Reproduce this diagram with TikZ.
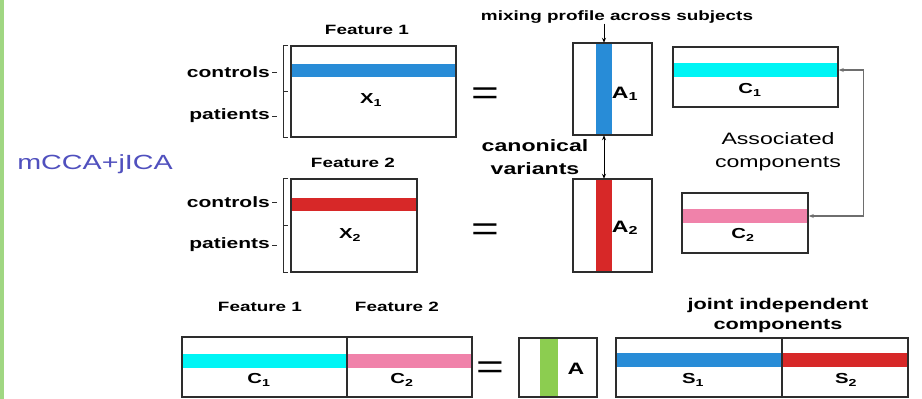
\documentclass[tikz,border=0pt]{standalone}
\usepackage{fontspec}
\setmainfont[FakeStretch=1.4]{Liberation Sans}
\usetikzlibrary{arrows.meta}
\definecolor{blueband}{RGB}{40,140,215}
\definecolor{redband}{RGB}{215,40,40}
\definecolor{cyanband}{RGB}{0,245,245}
\definecolor{pinkband}{RGB}{240,130,170}
\definecolor{greenband}{RGB}{140,205,80}
\definecolor{edgec}{RGB}{45,45,45}
\definecolor{leftgreen}{RGB}{160,215,130}
\definecolor{mccac}{RGB}{80,80,190}
\definecolor{connc}{RGB}{110,110,110}
\tikzset{
  box/.style={draw=edgec, line width=1.6pt, inner sep=0pt},
  band/.style={inner sep=0pt, draw=none},
  feat/.style={inner sep=0pt, font=\bfseries\fontsize{13.5}{16}\selectfont},
  side/.style={inner sep=0pt, anchor=east, font=\bfseries\fontsize{15}{18}\selectfont},
  mlbl/.style={inner sep=0pt, font=\bfseries\fontsize{14.5}{16}\selectfont},
  albl/.style={inner sep=0pt, font=\bfseries\fontsize{16.5}{18}\selectfont},
  eqs/.style={inner sep=0pt, font=\fontsize{34}{36}\selectfont},
  twoline/.style={inner sep=0pt, align=center},
  brk/.style={draw=edgec, line width=0.9pt},
  tip/.style={-{Stealth[length=5pt,width=4pt]}, line width=0.9pt, draw=black},
  conn/.style={{Stealth[length=5pt,width=4pt]}-{Stealth[length=5pt,width=4pt]}, line width=1.3pt, draw=connc},
}
\begin{document}
\begin{tikzpicture}[x=1pt,y=-1pt]
\useasboundingbox (0,0) rectangle (922,399);
\fill[white] (0,0) rectangle (922,399);
\fill[leftgreen] (0,0) rectangle (4,399);

% ---- top row ----
\node[feat] (f1) at (367,30) {Feature 1};
\node[band, fill=blueband, minimum width=165, minimum height=13] (X1b) at (373.5,70.5) {};
\node[box, minimum width=165, minimum height=91] (X1) at (373.5,91.5) {};
\node[mlbl] (X1l) at (371,100) {X\textsubscript{1}};
\node[side] (ctl1) at (270,72) {controls};
\node[side] (pat1) at (270,116) {patients};
\draw[brk] (ctl1.east) ++(2,0) -- ++(5,0);
\draw[brk] (pat1.east) ++(2,0) -- ++(5,0);
\draw[brk] ([xshift=-2pt]X1.north west) -- ([xshift=-7pt]X1.north west) -- ([xshift=-7pt]X1.south west) -- ([xshift=-2pt]X1.south west);
\draw[brk] ([xshift=-7pt]X1.west) -- ([xshift=-2pt]X1.west);

\node[eqs] (eq1) at (485,96) {=};

\node[feat] (mix) at (617,17) {mixing profile across subjects};
\node[band, fill=blueband, minimum width=16, minimum height=92] (A1c) at (604,89) {};
\node[box, minimum width=79, minimum height=92] (A1) at (612.5,89) {};
\node[albl] (A1l) at (625,94) {A\textsubscript{1}};
\draw[tip] (mix.south -| A1c.north) -- (A1c.north);

\node[band, fill=cyanband, minimum width=165, minimum height=14] (C1b) at (755.5,70) {};
\node[box, minimum width=165, minimum height=60] (C1) at (755.5,77) {};
\node[mlbl] (C1l) at (750,90) {C\textsubscript{1}};

\node[twoline, font=\bfseries\fontsize{16.5}{23}\selectfont] (canon) at (535,157) {canonical\\variants};
\node[twoline, font=\fontsize{16.5}{23}\selectfont] (assoc) at (778,152) {Associated\\components};

\node[inner sep=0pt, text=mccac, font=\fontsize{20.5}{24}\selectfont] (mcca) at (95,164) {mCCA+jICA};

% ---- second row ----
\node[feat] (f2) at (353,163) {Feature 2};
\node[band, fill=redband, minimum width=126, minimum height=13] (X2b) at (354,204.5) {};
\node[box, minimum width=126, minimum height=93] (X2) at (354,225.5) {};
\node[mlbl] (X2l) at (350,235) {X\textsubscript{2}};
\node[side] (ctl2) at (270,202) {controls};
\node[side] (pat2) at (270,245) {patients};
\draw[brk] (ctl2.east) ++(2,0) -- ++(5,0);
\draw[brk] (pat2.east) ++(2,0) -- ++(5,0);
\draw[brk] ([xshift=-2pt]X2.north west) -- ([xshift=-7pt]X2.north west) -- ([xshift=-7pt]X2.south west) -- ([xshift=-2pt]X2.south west);
\draw[brk] ([xshift=-7pt]X2.west) -- ([xshift=-2pt]X2.west);

\node[eqs] (eq2) at (485,232) {=};

\node[band, fill=redband, minimum width=16, minimum height=93] (A2c) at (604,225.5) {};
\node[box, minimum width=79, minimum height=93] (A2) at (612.5,225.5) {};
\node[albl] (A2l) at (625,228) {A\textsubscript{2}};
\draw[tip, {Stealth[length=5pt,width=4pt]}-{Stealth[length=5pt,width=4pt]}] (A1c.south) -- (A2c.north);

\node[band, fill=pinkband, minimum width=126, minimum height=14] (C2b) at (745,216) {};
\node[box, minimum width=126, minimum height=60] (C2) at (745,223) {};
\node[mlbl] (C2l) at (743,235) {C\textsubscript{2}};

\draw[conn] ([yshift=7pt]C2.east) -- ++(55,0) |- ([yshift=7pt]C1.east);

% ---- bottom row ----
\node[feat] (bf1) at (260,307) {Feature 1};
\node[feat] (bf2) at (397,307) {Feature 2};
\node[band, fill=cyanband, minimum width=165, minimum height=14] (CCab) at (264.5,361) {};
\node[band, fill=pinkband, minimum width=125, minimum height=14] (CCbb) at (409.5,361) {};
\node[box, minimum width=165, minimum height=60] (CCa) at (264.5,367) {};
\node[box, minimum width=125, minimum height=60] (CCb) at (409.5,367) {};
\node[mlbl] (CCal) at (259,380) {C\textsubscript{1}};
\node[mlbl] (CCbl) at (402,380) {C\textsubscript{2}};

\node[eqs] (eq3) at (490,370) {=};

\node[band, fill=greenband, minimum width=18, minimum height=59] (Ac) at (549,367.5) {};
\node[box, minimum width=78, minimum height=59] (A) at (558,367.5) {};
\node[albl] (Al) at (576,369) {A};

\node[twoline, font=\bfseries\fontsize{15.5}{20}\selectfont] (joint) at (778,315) {joint independent\\components};
\node[band, fill=blueband, minimum width=166, minimum height=14] (Sab) at (699,360) {};
\node[band, fill=redband, minimum width=126, minimum height=14] (Sbb) at (845,360) {};
\node[box, minimum width=166, minimum height=59] (Sa) at (699,367.5) {};
\node[box, minimum width=126, minimum height=59] (Sb) at (845,367.5) {};
\node[mlbl] (Sal) at (693,380) {S\textsubscript{1}};
\node[mlbl] (Sbl) at (846,380) {S\textsubscript{2}};
\end{tikzpicture}
\end{document}
